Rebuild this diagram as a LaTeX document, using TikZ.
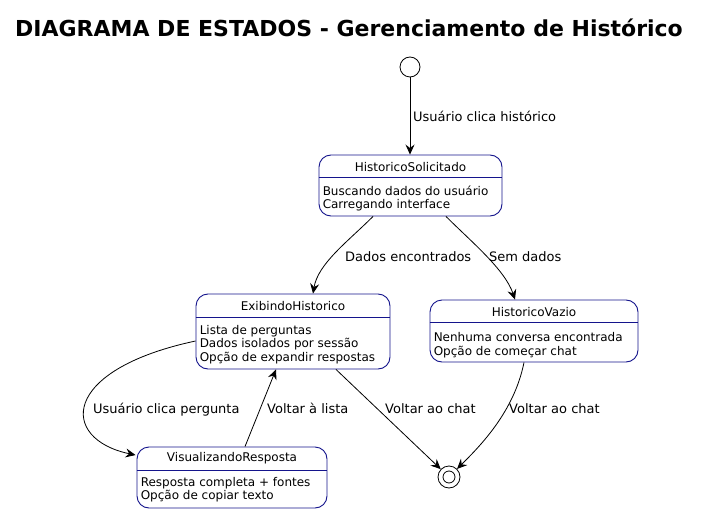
\documentclass[tikz,border=0pt]{standalone}
\usepackage{fontspec}
\setmainfont{DejaVu Sans}
\usetikzlibrary{arrows.meta,calc}
\definecolor{stborder}{RGB}{20,20,140}
\begin{document}
\begin{tikzpicture}[x=1pt,y=-1pt,
 state/.style={draw=stborder, fill=white, rounded corners=12pt, line width=0.9pt, inner sep=0},
 sep/.style={draw=stborder, line width=0.9pt},
 sname/.style={font=\fontsize{12}{14}\selectfont, inner sep=0},
 sbody/.style={font=\fontsize{12}{14}\selectfont, inner sep=0, anchor=base west},
 lbl/.style={font=\fontsize{13}{15}\selectfont, inner sep=0, anchor=base west},
 tr/.style={-{Stealth[length=10pt,width=9pt,inset=3.5pt]}, line width=0.8pt},
 ]
\useasboundingbox (0,0) rectangle (701,513);
\fill[white] (0,0) rectangle (701,513);

\node[font=\bfseries\fontsize{22}{26}\selectfont, inner sep=0] (title) at (349,28) {DIAGRAMA DE ESTADOS - Gerenciamento de Histórico};

% initial / final
\node[circle, draw, minimum size=20pt, inner sep=0, line width=0.8pt] (init) at (410,67) {};
\node[circle, draw, minimum size=22pt, inner sep=0, line width=0.8pt] (fin) at (449,477) {};
\node[circle, draw, minimum size=12pt, inner sep=0, line width=0.8pt] (finin) at (fin) {};

% HistoricoSolicitado
\node[state, minimum width=183pt, minimum height=61pt] (hs) at (410.5,185.5) {};
\draw[sep] ($(hs.north west)+(0,23)$) -- ($(hs.north east)+(0,23)$);
\node[sname] (hst) at ($(hs.north)+(0,12)$) {HistoricoSolicitado};
\node[sbody] (hs1) at ($(hs.north west)+(4,40.5)$) {Buscando dados do usuário};
\node[sbody] (hs2) at ($(hs.north west)+(4,54)$) {Carregando interface};

% ExibindoHistorico
\node[state, minimum width=194pt, minimum height=75pt] (eh) at (293,331.5) {};
\draw[sep] ($(eh.north west)+(0,24)$) -- ($(eh.north east)+(0,24)$);
\node[sname] (eht) at ($(eh.north)+(0,12.5)$) {ExibindoHistorico};
\node[sbody] (eh1) at ($(eh.north west)+(4,40.5)$) {Lista de perguntas};
\node[sbody] (eh2) at ($(eh.north west)+(4,54)$) {Dados isolados por sessão};
\node[sbody] (eh3) at ($(eh.north west)+(4,67.5)$) {Opção de expandir respostas};

% HistoricoVazio
\node[state, minimum width=208pt, minimum height=62pt] (hv) at (534,331) {};
\draw[sep] ($(hv.north west)+(0,23)$) -- ($(hv.north east)+(0,23)$);
\node[sname] (hvt) at ($(hv.north)+(0,12.5)$) {HistoricoVazio};
\node[sbody] (hv1) at ($(hv.north west)+(4,41.5)$) {Nenhuma conversa encontrada};
\node[sbody] (hv2) at ($(hv.north west)+(4,55.5)$) {Opção de começar chat};

% VisualizandoResposta
\node[state, minimum width=190pt, minimum height=61pt] (vr) at (232,477.5) {};
\draw[sep] ($(vr.north west)+(0,24)$) -- ($(vr.north east)+(0,24)$);
\node[sname] (vrt) at ($(vr.north)+(0,12)$) {VisualizandoResposta};
\node[sbody] (vr1) at ($(vr.north west)+(4,39.5)$) {Resposta completa + fontes};
\node[sbody] (vr2) at ($(vr.north west)+(4,53)$) {Opção de copiar texto};

% transitions
\draw[tr] (init.south) -- (init.south |- hs.north);
\draw[tr] ($(hs.south)+(-37.5,0)$) .. controls +(-25,25) and +(5,-30) .. ($(eh.north)+(20,0)$);
\draw[tr] ($(hs.south)+(35.5,0)$) .. controls +(25,25) and +(-10,-30) .. ($(hv.north)+(-19,0)$);
\draw[tr] ($(eh.west)+(0,9.5)$) .. controls +(-136,29) and +(-76,-16) .. ($(vr.north west)+(-1,8.5)$);
\draw[tr] ($(vr.north)+(13,0)$) -- ($(eh.south)+(-17,0)$);
\draw[tr] ($(eh.south)+(43,0)$) -- (fin);
\draw[tr] ($(hv.south)+(-10,0)$) .. controls +(-10,50) and +(22,-22) .. (fin.north east);

% labels
\node[lbl] (l1) at (413,122) {Usuário clica histórico};
\node[lbl] (l2) at (345,261) {Dados encontrados};
\node[lbl] (l3) at (489,261) {Sem dados};
\node[lbl] (l4) at (93,413) {Usuário clica pergunta};
\node[lbl] (l5) at (267,413) {Voltar à lista};
\node[lbl] (l6) at (385,413) {Voltar ao chat};
\node[lbl] (l7) at (509,413) {Voltar ao chat};
\end{tikzpicture}
\end{document}
